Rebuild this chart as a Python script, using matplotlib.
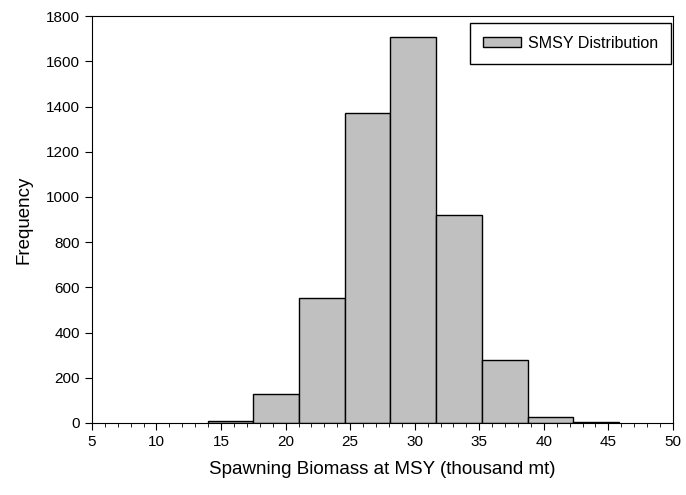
import matplotlib.pyplot as plt
from matplotlib.ticker import MultipleLocator

# histogram bins (thousand mt) and counts
bin_edges = [13.96, 17.50, 21.04, 24.58, 28.12, 31.66, 35.20, 38.74, 42.28, 45.82]
counts = [8, 128, 554, 1370, 1708, 921, 279, 28, 3]

plt.rcParams['font.family'] = ['Liberation Sans', 'DejaVu Sans']

fig = plt.figure(figsize=(6.86, 4.95), dpi=100)
ax = fig.add_axes([0.134, 0.1455, 0.847, 0.822])

ax.hist(bin_edges[:-1], bins=bin_edges, weights=counts,
        color='#c0c0c0', edgecolor='black', linewidth=1.0,
        label='SMSY Distribution')

ax.set_xlim(5, 50)
ax.set_ylim(0, 1800)
ax.xaxis.set_major_locator(MultipleLocator(5))
ax.xaxis.set_minor_locator(MultipleLocator(1))
ax.yaxis.set_major_locator(MultipleLocator(200))
ax.tick_params(axis='both', which='major', direction='out', length=5, labelsize=11)
ax.tick_params(axis='x', which='minor', direction='out', length=3)
ax.tick_params(top=False, right=False)

ax.set_xlabel('Spawning Biomass at MSY (thousand mt)', fontsize=13.5, labelpad=9)
ax.set_ylabel('Frequency', fontsize=13.5, labelpad=10)

leg = ax.legend(loc='upper right', fontsize=11.5, fancybox=False, framealpha=1,
                edgecolor='black', handlelength=2.4, handleheight=0.6,
                handletextpad=0.45, borderpad=0.8, borderaxespad=0,
                bbox_to_anchor=(0.9966, 0.983))
leg.get_frame().set_linewidth(1.0)

plt.savefig('out.png', dpi=100)
plt.close()
